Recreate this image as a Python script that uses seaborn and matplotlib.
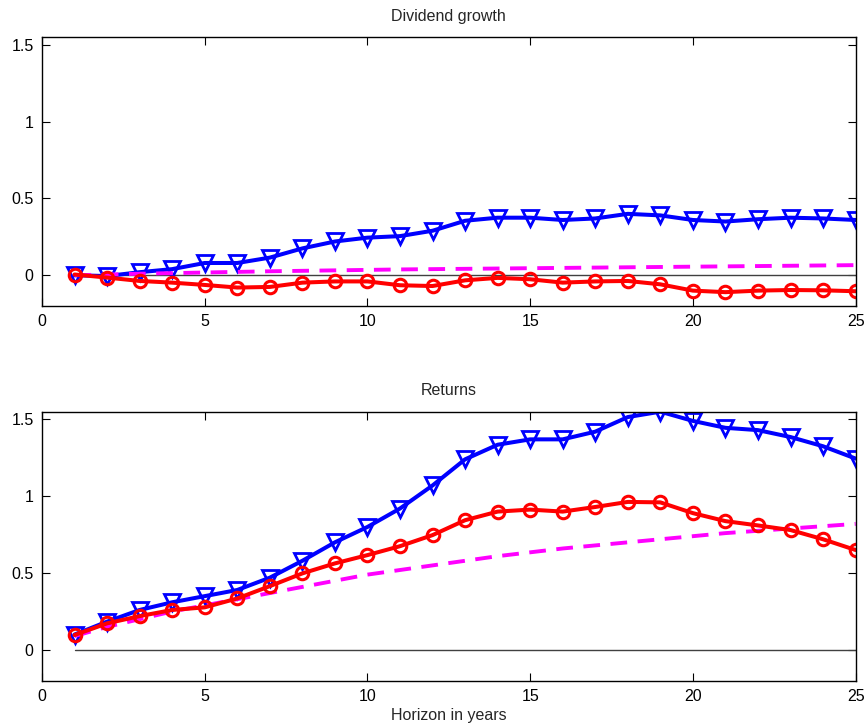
import numpy as np
import pandas as pd
import matplotlib
matplotlib.use("Agg")
import matplotlib.pyplot as plt
import seaborn as sns

sns.set_style("ticks")
plt.rcParams["font.family"] = ["Liberation Sans", "DejaVu Sans"]

years = list(range(1, 26))

# Dividend growth responses
div_blue = [0.00, -0.005, 0.02, 0.04, 0.08, 0.08, 0.115, 0.175, 0.22, 0.245,
            0.255, 0.29, 0.355, 0.375, 0.375, 0.36, 0.37, 0.40, 0.39, 0.36,
            0.35, 0.365, 0.375, 0.37, 0.36]
div_red = [0.005, -0.015, -0.037, -0.048, -0.063, -0.08, -0.076, -0.048, -0.04, -0.04,
           -0.065, -0.07, -0.033, -0.017, -0.026, -0.048, -0.04, -0.037, -0.059, -0.10,
           -0.11, -0.10, -0.096, -0.098, -0.104]
div_magenta = [0.0, 0.005, 0.01, 0.014, 0.018, 0.022, 0.026, 0.029, 0.032, 0.035,
               0.038, 0.040, 0.042, 0.044, 0.046, 0.048, 0.050, 0.052, 0.054, 0.056,
               0.058, 0.060, 0.062, 0.064, 0.066]

# Return responses
ret_blue = [0.10, 0.184, 0.26, 0.31, 0.35, 0.39, 0.47, 0.58, 0.70, 0.80,
            0.92, 1.07, 1.24, 1.335, 1.37, 1.37, 1.42, 1.515, 1.55, 1.49,
            1.445, 1.43, 1.385, 1.325, 1.245]
ret_red = [0.097, 0.173, 0.22, 0.26, 0.277, 0.335, 0.415, 0.498, 0.563, 0.617,
           0.675, 0.747, 0.844, 0.90, 0.913, 0.90, 0.93, 0.963, 0.96, 0.89,
           0.838, 0.81, 0.78, 0.72, 0.65]
ret_magenta = [0.09, 0.15, 0.20, 0.25, 0.29, 0.33, 0.37, 0.41, 0.45, 0.49,
               0.52, 0.55, 0.58, 0.61, 0.635, 0.66, 0.68, 0.70, 0.72, 0.74,
               0.76, 0.775, 0.79, 0.805, 0.82]

titles = ["Dividend growth", "Returns"]
xticks = [0, 5, 10, 15, 20, 25]
yticks = [0, 0.5, 1, 1.5]
yticklabels = ["0", "0.5", "1", "1.5"]

fig = plt.figure(figsize=(8.66, 7.28), dpi=100)
ax_top = fig.add_axes([0.0485, 0.5797, 0.9395, 0.3691])
ax_bot = fig.add_axes([0.0485, 0.0650, 0.9395, 0.3695])

panels = [
    (ax_top, div_blue, div_red, div_magenta, titles[0]),
    (ax_bot, ret_blue, ret_red, ret_magenta, titles[1]),
]

for ax, blue, red, mag, title in panels:
    df = pd.DataFrame({"year": years, "blue": blue, "red": red, "mag": mag,
                       "zero": np.zeros(len(years))})
    sns.lineplot(data=df, x="year", y="zero", ax=ax, color="0.25", lw=1.0)
    sns.lineplot(data=df, x="year", y="blue", ax=ax, color="#0000ff", lw=2.9,
                 marker="v", markersize=11, markerfacecolor="none",
                 markeredgecolor="#0000ff", markeredgewidth=2.0)
    sns.lineplot(data=df, x="year", y="mag", ax=ax, color="#ff00ff", lw=2.8,
                 dashes=False, linestyle=(0, (4.3, 2.7)))
    sns.lineplot(data=df, x="year", y="red", ax=ax, color="#ff0000", lw=2.9,
                 marker="o", markersize=9, markerfacecolor="none",
                 markeredgecolor="#ff0000", markeredgewidth=2.2)
    ax.set_xlim(0, 25)
    ax.set_ylim(-0.2, 1.55)
    ax.set_xticks(xticks)
    ax.set_xticklabels([str(t) for t in xticks])
    ax.set_yticks(yticks)
    ax.set_yticklabels(yticklabels)
    ax.tick_params(direction="in", length=6, width=0.8, top=True, right=True,
                   labelsize=11.5, pad=6, colors="black")
    for sp in ax.spines.values():
        sp.set_visible(True)
        sp.set_linewidth(1.0)
        sp.set_color("black")
    ax.set_title(title, fontsize=11.5, pad=12)
    ax.set_xlabel("")
    ax.set_ylabel("")

ax_bot.set_xlabel("Horizon in years", fontsize=11.5, labelpad=3)

fig.savefig("out.png", dpi=100)
